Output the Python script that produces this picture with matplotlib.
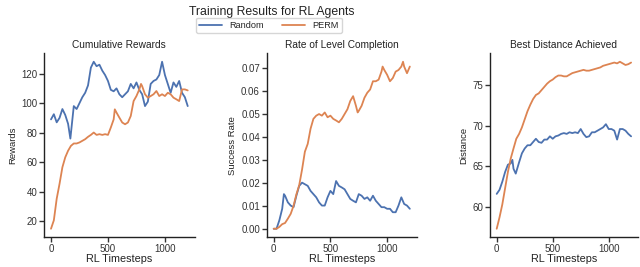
import matplotlib
matplotlib.use("Agg")
import matplotlib.pyplot as plt
import seaborn as sns

# Cumulative rewards
rew_rand_t = [0, 25, 50, 75, 100, 125, 150, 170, 200, 225, 250, 275, 300, 325, 350, 375,
              400, 425, 450, 475, 500, 525, 550, 575, 600, 625, 650, 675, 700, 725, 750,
              775, 800, 825, 850, 875, 900, 925, 950, 975, 1000, 1025, 1050, 1075, 1100,
              1125, 1150, 1175, 1200]
rew_rand = [89, 92.5, 87, 90, 96, 92, 86, 76, 98, 96, 100, 104, 107, 112, 124, 128,
            125, 126, 122, 119, 115, 109, 108, 110, 106, 104, 106, 108, 113, 110, 114,
            109, 106, 98, 101, 113, 115, 116, 119, 128, 119, 113, 107, 114, 111,
            115, 107, 104, 98]
rew_perm_t = [0, 25, 50, 75, 100, 125, 150, 175, 200, 225, 250, 275, 300, 325, 350, 375,
              400, 425, 450, 475, 500, 525, 550, 560, 575, 600, 625, 650, 675, 700, 725,
              750, 775, 790, 800, 825, 850, 875, 900, 925, 950, 975, 1000, 1025, 1050,
              1075, 1100, 1125, 1150, 1175, 1200]
rew_perm = [15, 20.7, 35.3, 45.4, 56.6, 63.3, 67.8, 71.1, 72.7, 72.7, 73.4, 74.5, 75.6,
            77.2, 78.5, 80.1, 78.5, 79, 78.5, 79, 78.5, 83.5, 89, 95.8, 93.6, 90.2, 86.9,
            85.7, 86.9, 91.3, 101.4, 104.8, 109.3, 113, 111.5, 106, 103.7, 104.8, 106,
            108.2, 104.8, 106, 104.8, 107, 106, 103.7, 102.6, 101.4, 109.3, 109.3, 108.6]

# Rate of level completion
suc_rand_t = [0, 25, 50, 75, 90, 100, 125, 150, 175, 200, 225, 250, 275, 300, 325, 350,
              375, 400, 425, 450, 475, 500, 525, 550, 575, 600, 625, 650, 675, 700, 725,
              750, 775, 800, 825, 850, 875, 900, 925, 950, 975, 1000, 1025, 1050, 1075,
              1100, 1125, 1150, 1175, 1200]
suc_rand = [0, 0, 0.0037, 0.0087, 0.0151, 0.0144, 0.0115, 0.0101, 0.0094, 0.0144, 0.0187,
            0.0201, 0.0194, 0.0187, 0.0165, 0.0151, 0.0137, 0.0115, 0.0101, 0.0101, 0.0137,
            0.0165, 0.0151, 0.0208, 0.0187, 0.018, 0.0172, 0.0151, 0.013, 0.0122, 0.0115,
            0.0151, 0.0144, 0.013, 0.0137, 0.0122, 0.0144, 0.0122, 0.0108, 0.0094, 0.0094,
            0.0087, 0.0087, 0.0072, 0.0072, 0.0101, 0.0137, 0.0108, 0.0101, 0.0087]
suc_perm_t = [0, 25, 50, 75, 100, 125, 150, 175, 200, 225, 250, 275, 300, 325, 350, 375,
              400, 425, 450, 475, 500, 525, 550, 575, 600, 625, 650, 675, 700, 725, 740,
              750, 775, 800, 825, 850, 875, 900, 925, 950, 960, 975, 1000, 1025, 1050,
              1075, 1100, 1125, 1140, 1150, 1175, 1200]
suc_perm = [0, 0, 0.0008, 0.002, 0.0025, 0.0044, 0.0065, 0.01, 0.015, 0.019, 0.0258,
            0.0336, 0.037, 0.0436, 0.0479, 0.0493, 0.05, 0.0493, 0.0507, 0.0486, 0.0493,
            0.0479, 0.0472, 0.0464, 0.0479, 0.05, 0.0521, 0.0557, 0.0578, 0.0536, 0.0507,
            0.0514, 0.0536, 0.0571, 0.0593, 0.0607, 0.0643, 0.0643, 0.065, 0.0685, 0.0707,
            0.0692, 0.0671, 0.0643, 0.0657, 0.0685, 0.0692, 0.0707, 0.0728, 0.0707,
            0.0678, 0.0707]

# Best distance achieved
dist_rand_t = [0, 25, 50, 75, 100, 125, 140, 150, 170, 200, 225, 250, 275, 300, 325, 350,
               375, 400, 425, 450, 475, 500, 525, 550, 575, 600, 625, 650, 675, 700, 725,
               750, 775, 800, 825, 850, 875, 900, 925, 950, 975, 1000, 1025, 1050, 1075,
               1100, 1125, 1150, 1175, 1200]
dist_rand = [61.6, 62.1, 63.1, 64.3, 65.2, 65.35, 65.8, 64.7, 64.1, 65.5, 66.6, 67.2, 67.6,
             67.6, 68, 68.4, 68, 67.9, 68.3, 68.3, 68.7, 68.4, 68.7, 68.8, 69, 69.1, 69,
             69.2, 69.1, 69.2, 69.1, 69.6, 69, 68.6, 68.7, 69.2, 69.2, 69.4, 69.6, 69.8,
             70.2, 69.6, 69.6, 69.4, 68.3, 69.6, 69.6, 69.4, 69, 68.7]
dist_perm_t = [0, 25, 50, 75, 100, 125, 150, 175, 200, 225, 250, 275, 300, 325, 350, 375,
               400, 425, 450, 475, 500, 525, 550, 575, 600, 625, 650, 675, 700, 725, 750,
               775, 800, 825, 850, 875, 900, 925, 950, 975, 1000, 1025, 1050, 1075, 1100,
               1125, 1150, 1175, 1200]
dist_perm = [57.3, 58.7, 60.3, 62.3, 64.3, 65.95, 67.2, 68.4, 69, 69.8, 70.8, 71.8, 72.6,
             73.3, 73.8, 74, 74.4, 74.8, 75.2, 75.5, 75.7, 76, 76.2, 76.2, 76.1, 76.1, 76.3,
             76.5, 76.6, 76.7, 76.8, 76.9, 76.8, 76.8, 76.9, 77, 77.1, 77.2, 77.4, 77.5,
             77.6, 77.7, 77.8, 77.7, 77.9, 77.7, 77.5, 77.6, 77.8]

sns.set_style("ticks")
plt.rcParams['font.family'] = ['Liberation Sans', 'DejaVu Sans']

blue = '#4C72B0'
orange = '#DD8452'

fig = plt.figure(figsize=(6.4, 2.67), dpi=100)
ax1 = fig.add_axes([0.0690, 0.112, 0.235, 0.688])
ax2 = fig.add_axes([0.417, 0.112, 0.234, 0.688])
ax3 = fig.add_axes([0.7656, 0.112, 0.231, 0.688])

panels = [
    (ax1, rew_rand_t, rew_rand, rew_perm_t, rew_perm, 'Cumulative Rewards', 'Rewards'),
    (ax2, suc_rand_t, suc_rand, suc_perm_t, suc_perm, 'Rate of Level Completion', 'Success Rate'),
    (ax3, dist_rand_t, dist_rand, dist_perm_t, dist_perm, 'Best Distance Achieved', 'Distance'),
]

for ax, rt, rv, pt, pv, title, ylab in panels:
    ax.plot(rt, rv, color=blue, lw=1.3, label='Random')
    ax.plot(pt, pv, color=orange, lw=1.3, label='PERM')
    ax.set_title(title, fontsize=7.3, pad=4, color='#222222')
    ax.set_ylabel(ylab, fontsize=6.8, labelpad=3, color='#222222')
    ax.set_xlabel('RL Timesteps', fontsize=7.8, labelpad=0, color='#222222')
    ax.tick_params(labelsize=7, length=3.5, width=1.0, pad=1.5, colors='#333333')
    ax.set_xticks([0, 500, 1000])
    for s in ax.spines.values():
        s.set_linewidth(1.0)
        s.set_color('#222222')
    sns.despine(ax=ax)

ax1.set_yticks([20, 40, 60, 80, 100, 120])
ax2.set_yticks([0.00, 0.01, 0.02, 0.03, 0.04, 0.05, 0.06, 0.07])
ax3.set_yticks([60, 65, 70, 75])

fig.text(0.425, 0.955, 'Training Results for RL Agents', ha='center', va='center',
         fontsize=8.8, color='#222222')
handles, labels = ax1.get_legend_handles_labels()
fig.legend(handles, labels, loc='center', bbox_to_anchor=(0.42, 0.905), ncol=2,
           fontsize=6.6, frameon=True, handlelength=2.5, columnspacing=2.0,
           borderpad=0.35, handletextpad=0.8)

fig.savefig('out.png', dpi=100)
